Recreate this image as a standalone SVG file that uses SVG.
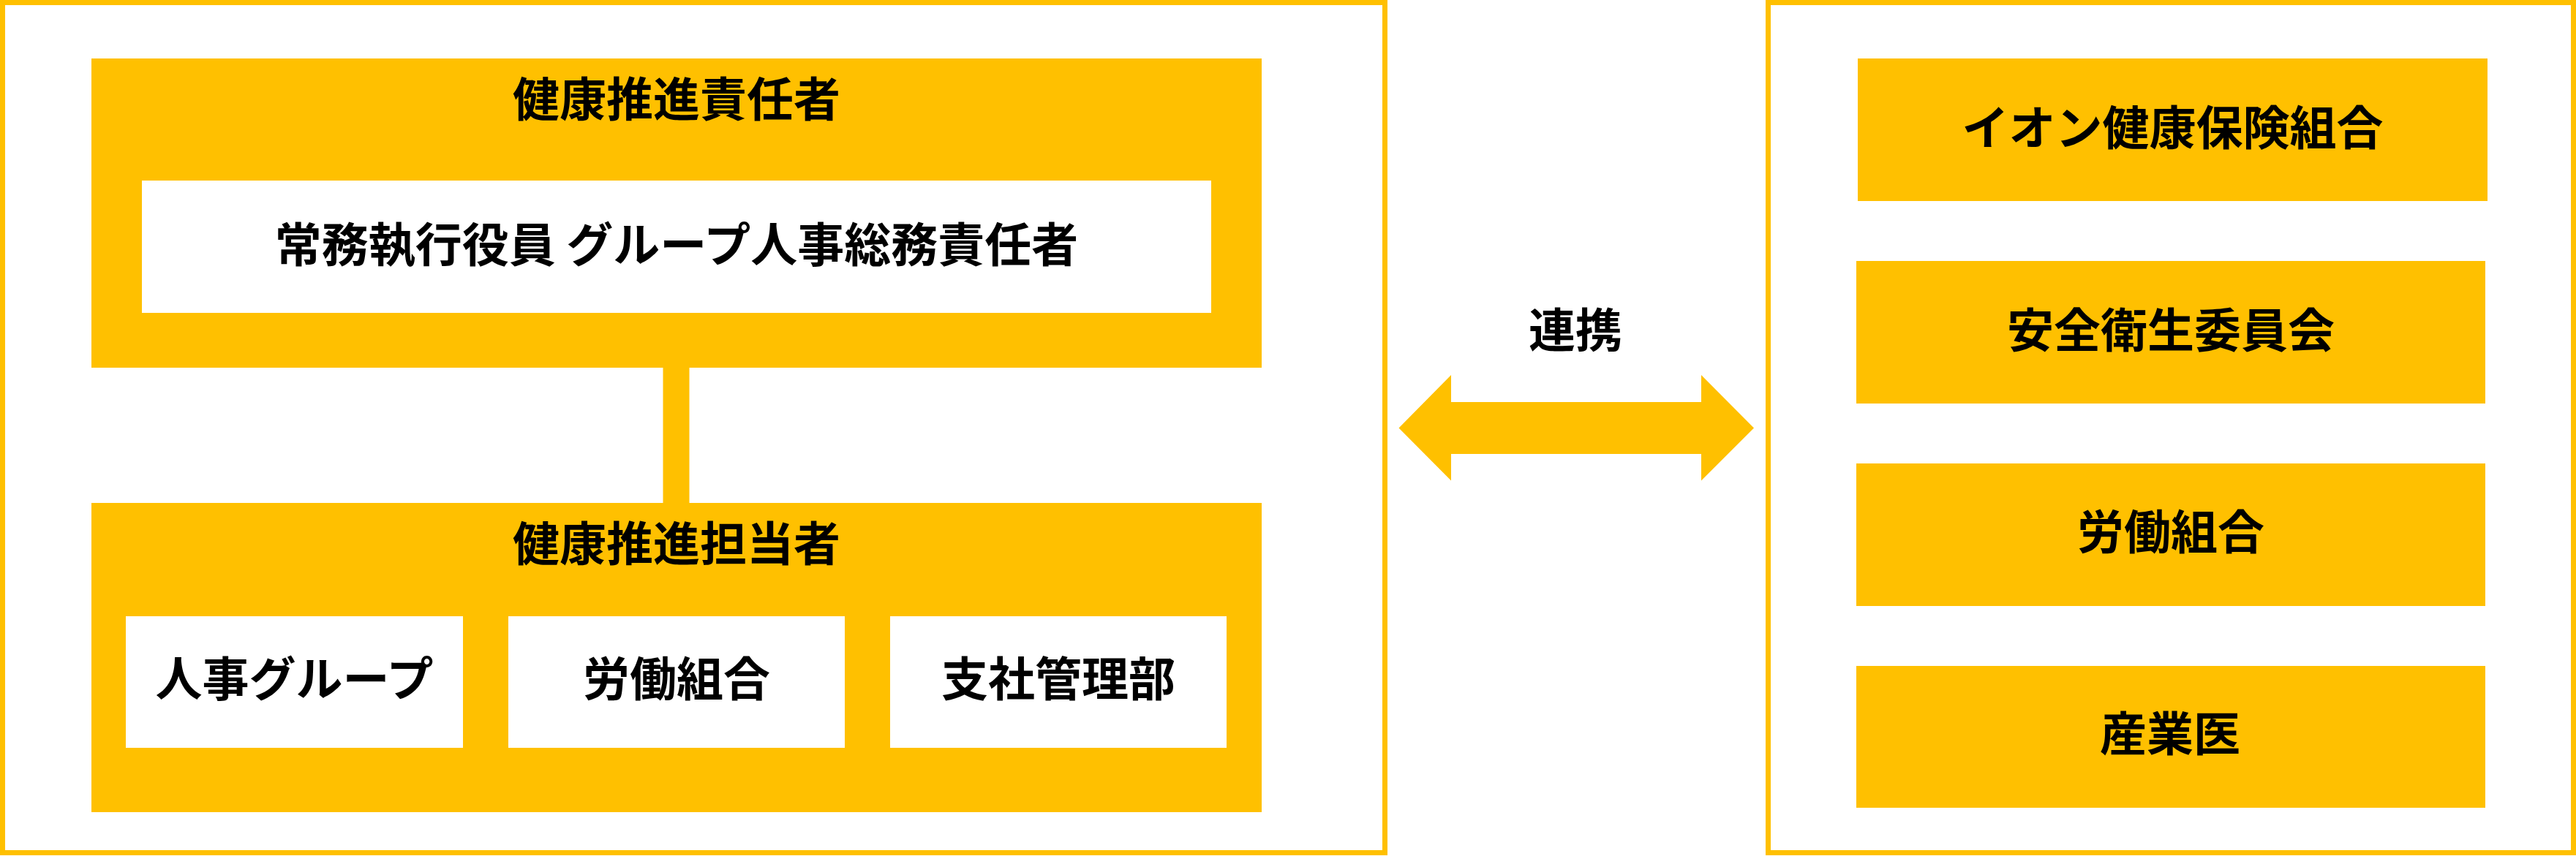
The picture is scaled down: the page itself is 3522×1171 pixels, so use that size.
<svg xmlns="http://www.w3.org/2000/svg" width="3522" height="1171" viewBox="0 0 3522 1171">
<style>
  .frame { fill: #FFFFFF; stroke: #FFC000; stroke-width: 7; }
  .gold { fill: #FFC000; }
  .white { fill: #FFFFFF; }
  .lbl { font-family: "Noto Sans CJK JP", "Noto Sans", sans-serif; font-size: 64px; font-weight: 700; fill: #000000; text-anchor: middle; }
</style>
<rect width="3522" height="1171" fill="#FFFFFF"/>

<g id="frame-left">
  <rect class="frame" x="3.5" y="3.5" width="1890" height="1163"/>
</g>
<g id="frame-right">
  <rect class="frame" x="2417.5" y="3.5" width="1101" height="1163"/>
</g>

<g id="connectors">
  <rect class="gold" x="906.5" y="500" width="36" height="190"/>
  <polygon class="gold" points="1912.5,585.5 1984,513 1984,550 2326,550 2326,513 2398,585.5 2326,657.5 2326,621 1984,621 1984,657.5"/>
  <text class="lbl" x="2154" y="475">連携</text>
</g>

<g id="node-sekininsha">
  <rect class="gold" x="125" y="80" width="1600" height="423"/>
  <text class="lbl" x="925" y="159">健康推進責任者</text>
</g>
<g id="node-jomu">
  <rect class="white" x="194" y="247" width="1462" height="181"/>
  <text class="lbl" x="925" y="358">常務執行役員 グループ人事総務責任者</text>
</g>

<g id="node-tantosha">
  <rect class="gold" x="125" y="688" width="1600" height="423"/>
  <text class="lbl" x="925" y="767">健康推進担当者</text>
</g>
<g id="node-jinji">
  <rect class="white" x="172" y="843" width="461" height="180"/>
  <text class="lbl" x="402.5" y="952">人事グループ</text>
</g>
<g id="node-rodo-left">
  <rect class="white" x="695" y="843" width="460" height="180"/>
  <text class="lbl" x="925" y="952">労働組合</text>
</g>
<g id="node-shisha">
  <rect class="white" x="1217" y="843" width="460" height="180"/>
  <text class="lbl" x="1447" y="952">支社管理部</text>
</g>

<g id="node-kenpo">
  <rect class="gold" x="2540" y="80" width="861" height="195"/>
  <text class="lbl" x="2970.5" y="198">イオン健康保険組合</text>
</g>
<g id="node-anzen">
  <rect class="gold" x="2538" y="357" width="860" height="195"/>
  <text class="lbl" x="2968" y="475">安全衛生委員会</text>
</g>
<g id="node-rodo-right">
  <rect class="gold" x="2538" y="634" width="860" height="195"/>
  <text class="lbl" x="2968" y="751">労働組合</text>
</g>
<g id="node-sangyoi">
  <rect class="gold" x="2538" y="911" width="860" height="194"/>
  <text class="lbl" x="2967" y="1027">産業医</text>
</g>
</svg>
